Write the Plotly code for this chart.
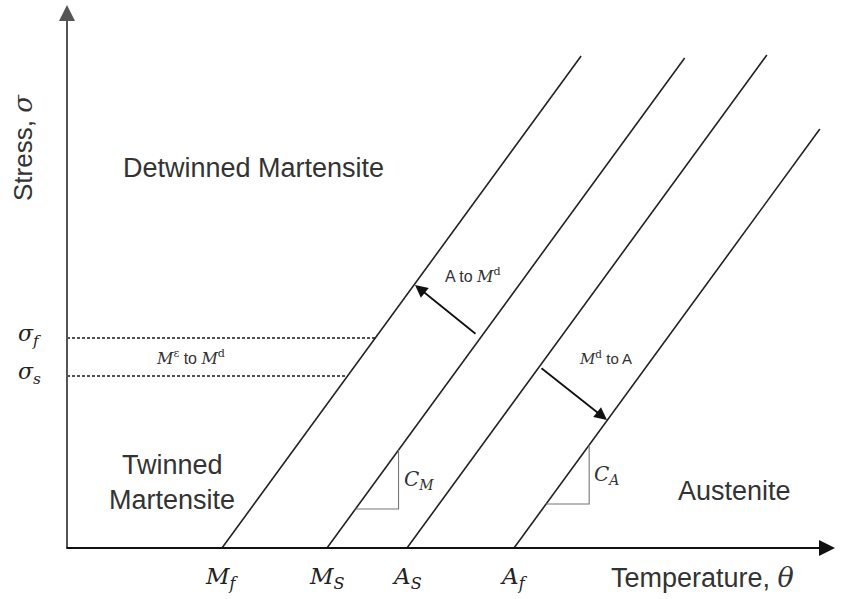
import plotly.graph_objects as go

# --- data (temperature / stress units; origin at axes intersection) ---
trans_names = ["M<sub>f</sub>", "M<sub>S</sub>", "A<sub>S</sub>", "A<sub>f</sub>"]
trans_temps = [155, 260, 340, 447]          # where each line meets the temperature axis
line_top_stress = [492, 490, 493, 419]      # stress at the upper end of each line
slope = 1.37                                 # C_M = C_A (stress per temperature)
sigma_names = ["σ<sub>f</sub>", "σ<sub>s</sub>"]
sigma_vals = [210, 172]
x_max, y_max = 768, 543

fig = go.Figure()

# transformation lines
for T0, ytop in zip(trans_temps, line_top_stress):
    fig.add_trace(go.Scatter(x=[T0, T0 + ytop / slope], y=[0, ytop], mode="lines",
                             line=dict(color="#222222", width=1.6), hoverinfo="skip"))

# dashed stress lines up to the M_f line
for s in sigma_vals:
    fig.add_trace(go.Scatter(x=[0, trans_temps[0] + s / slope], y=[s, s], mode="lines",
                             line=dict(color="#1a1a1a", width=1.3, dash="3px,2px"), hoverinfo="skip"))

# slope triangles
tri = [(1, 39, 98, "C<sub>M</sub>"), (3, 44, 103, "C<sub>A</sub>")]
for idx, y0, y1, lab in tri:
    T0 = trans_temps[idx]
    xa, xb = T0 + y0 / slope, T0 + y1 / slope
    fig.add_trace(go.Scatter(x=[xa, xb, xb], y=[y0, y0, y1], mode="lines",
                             line=dict(color="#777777", width=1.1), hoverinfo="skip"))
    fig.add_annotation(x=xb + 3, y=(y0 + y1) / 2, text="<i>" + lab + "</i>", showarrow=False,
                       xanchor="left", font=dict(family="DejaVu Serif", size=20, color="#333333"))

# axes with arrows
fig.add_annotation(x=0, y=y_max, ax=0, ay=-2, xref="x", yref="y", axref="x", ayref="y",
                   text="", showarrow=True, arrowhead=2, arrowsize=1.6, arrowwidth=2, arrowcolor="#555555")
fig.add_annotation(x=x_max, y=0, ax=-2, ay=0, xref="x", yref="y", axref="x", ayref="y",
                   text="", showarrow=True, arrowhead=2, arrowsize=1.6, arrowwidth=2, arrowcolor="#111111")

# transformation arrows
fig.add_annotation(x=348, y=263, ax=410, ay=213, xref="x", yref="y", axref="x", ayref="y",
                   text="", showarrow=True, arrowhead=2, arrowsize=1.4, arrowwidth=1.8, arrowcolor="#111111")
fig.add_annotation(x=540, y=128, ax=473, ay=181, xref="x", yref="y", axref="x", ayref="y",
                   text="", showarrow=True, arrowhead=2, arrowsize=1.4, arrowwidth=1.8, arrowcolor="#111111")

sans = "Liberation Sans"
serif = "DejaVu Serif"
txt = "#333333"

fig.add_annotation(x=406, y=273, text='A to <span style="font-family:DejaVu Serif"><i>M</i><sup>d</sup></span>',
                   showarrow=False, font=dict(family=sans, size=16, color=txt))
fig.add_annotation(x=538, y=190, text='<span style="font-family:DejaVu Serif"><i>M</i><sup>d</sup></span> to A',
                   showarrow=False, font=dict(family=sans, size=15, color=txt))
fig.add_annotation(x=123, y=191, text='<span style="font-family:DejaVu Serif"><i>M</i><sup>ε</sup></span> to <span style="font-family:DejaVu Serif"><i>M</i><sup>d</sup></span>',
                   showarrow=False, font=dict(family=sans, size=16, color=txt))

# region labels
big = 27
fig.add_annotation(x=186, y=380, text="Detwinned Martensite", showarrow=False,
                   font=dict(family=sans, size=big, color=txt))
fig.add_annotation(x=105, y=83, text="Twinned", showarrow=False, font=dict(family=sans, size=big, color=txt))
fig.add_annotation(x=105, y=48, text="Martensite", showarrow=False, font=dict(family=sans, size=big, color=txt))
fig.add_annotation(x=667, y=57, text="Austenite", showarrow=False, font=dict(family=sans, size=big, color=txt))

# axis titles
fig.add_annotation(x=635, y=-29, text='Temperature, <span style="font-family:DejaVu Serif"><i>θ</i></span>',
                   showarrow=False, font=dict(family=sans, size=big, color=txt))
fig.add_annotation(x=-44, y=400, text='Stress, <span style="font-family:DejaVu Serif"><i>σ</i></span>',
                   showarrow=False, textangle=-90, font=dict(family=sans, size=26, color=txt))

# tick-like labels
for name, T in zip(trans_names, trans_temps):
    fig.add_annotation(x=T, y=-30, text="<i>" + name + "</i>", showarrow=False,
                       font=dict(family=serif, size=23, color="#222222"))
for name, s in zip(sigma_names, sigma_vals):
    fig.add_annotation(x=-38, y=s + 3, text="<i>" + name + "</i>", showarrow=False,
                       font=dict(family=serif, size=22, color="#222222"))

fig.update_layout(width=846, height=599, margin=dict(l=0, r=0, t=0, b=0),
                  plot_bgcolor="white", paper_bgcolor="white", showlegend=False,
                  xaxis=dict(range=[-67, 779], visible=False, fixedrange=True),
                  yaxis=dict(range=[-51, 548], visible=False, fixedrange=True))
fig.write_html("out.html")
